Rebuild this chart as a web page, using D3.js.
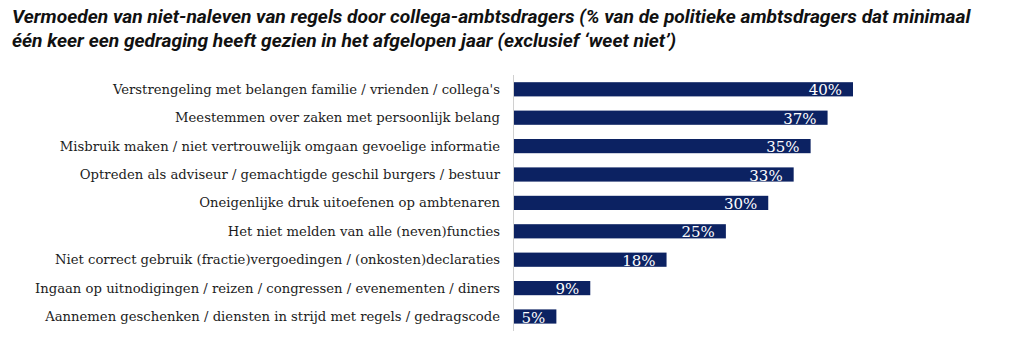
<!DOCTYPE html>
<html>
<head>
<meta charset="utf-8">
<script src="https://cdn.jsdelivr.net/npm/d3@7"></script>
<style>
  html, body { margin: 0; padding: 0; background: #ffffff; }
  svg { display: block; }
</style>
</head>
<body>
<svg id="chart" width="1024" height="348"></svg>
<script>
// Behaviour categories, top to bottom
const categories = [
  "Verstrengeling met belangen familie / vrienden / collega's",
  "Meestemmen over zaken met persoonlijk belang",
  "Misbruik maken / niet vertrouwelijk omgaan gevoelige informatie",
  "Optreden als adviseur / gemachtigde geschil burgers / bestuur",
  "Oneigenlijke druk uitoefenen op ambtenaren",
  "Het niet melden van alle (neven)functies",
  "Niet correct gebruik (fractie)vergoedingen / (onkosten)declaraties",
  "Ingaan op uitnodigingen / reizen / congressen / evenementen / diners",
  "Aannemen geschenken / diensten in strijd met regels / gedragscode"
];
// Share of political office holders (%)
const values = [40, 37, 35, 33, 30, 25, 18, 9, 5];

const titleLines = [
  "Vermoeden van niet-naleven van regels door collega-ambtsdragers (% van de politieke ambtsdragers dat minimaal",
  "één keer een gedraging heeft gezien in het afgelopen jaar (exclusief \u2018weet niet\u2019)"
];

const svg = d3.select("#chart");
const barColor = "#0c2262";

// Title
svg.append("g")
  .selectAll("text")
  .data(titleLines)
  .join("text")
  .attr("x", 12)
  .attr("y", (d, i) => 23 + i * 24)
  .attr("font-family", "Roboto, sans-serif")
  .attr("font-weight", 700)
  .attr("font-style", "italic")
  .attr("font-size", 19.2)
  .attr("fill", "#111111")
  .text(d => d);

const x0 = 514;
const x = d3.scaleLinear().domain([0, 40]).range([x0, x0 + 339]);
const y = d3.scaleBand()
  .domain(categories)
  .range([75.1, 330.7])
  .paddingInner(0.5)
  .paddingOuter(0.25);

const data = categories.map((c, i) => ({ cat: c, val: values[i] }));

// Bars
svg.append("g")
  .selectAll("rect")
  .data(data)
  .join("rect")
  .attr("x", x(0))
  .attr("y", d => y(d.cat))
  .attr("width", d => x(d.val) - x(0))
  .attr("height", y.bandwidth())
  .attr("fill", barColor);

// Vertical axis line
svg.append("line")
  .attr("x1", x0 - 0.5).attr("x2", x0 - 0.5)
  .attr("y1", 75).attr("y2", 331)
  .attr("stroke", "#d0d0d0")
  .attr("stroke-width", 1);

// Category labels
const yAxis = d3.axisLeft(y).tickSize(0).tickPadding(0);
const gAxis = svg.append("g")
  .attr("transform", `translate(${x0 - 14},0)`)
  .call(yAxis);
gAxis.select(".domain").remove();
gAxis.selectAll("text")
  .attr("font-family", "'DejaVu Serif', serif")
  .attr("font-size", 13.2)
  .attr("fill", "#1c1c1c")
  .attr("dy", "0.34em");

// Value labels inside bar ends
svg.append("g")
  .selectAll("text")
  .data(data)
  .join("text")
  .attr("x", d => x(d.val) - 11)
  .attr("y", d => y(d.cat) + y.bandwidth() / 2 + 6)
  .attr("text-anchor", "end")
  .attr("font-family", "'DejaVu Serif', serif")
  .attr("font-size", 15)
  .attr("fill", "#ffffff")
  .text(d => d.val + "%");
</script>
</body>
</html>
